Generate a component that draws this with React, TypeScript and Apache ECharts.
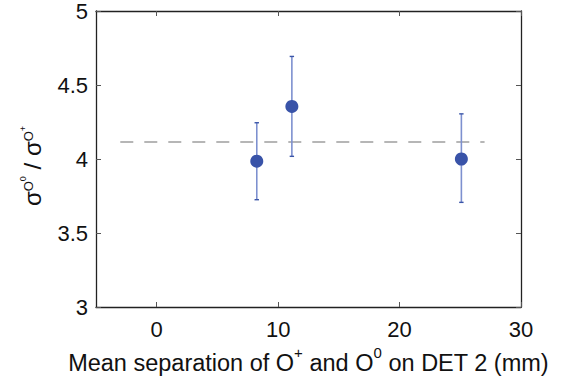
import React, { useEffect, useRef } from "react";
import * as echarts from "echarts";

const xValues = [8.24, 11.13, 25.09];
const yValues = [3.985, 4.355, 4.0];
const yLow = [3.725, 4.018, 3.707];
const yHigh = [4.245, 4.693, 4.305];
const refLineX = [-3, 27];
const refLineY = 4.115;
const xTicks = [0, 10, 20, 30];

const FONT = "'Liberation Sans', Arial, Helvetica, sans-serif";

export default function App() {
  const ref = useRef<HTMLDivElement>(null);
  useEffect(() => {
    if (!ref.current) return;
    const chart = echarts.init(ref.current, null, { renderer: "svg" });
    const points = xValues.map((x, i) => [x, yValues[i]]);
    const bars = xValues.map((x, i) => [x, yLow[i], yHigh[i]]);
    const axisColor = "#222";
    const option: any = {
      animation: false,
      textStyle: { fontFamily: FONT },
      grid: { left: 96, top: 8, right: 46, bottom: 76, containLabel: false },
      xAxis: [
        {
          type: "value",
          min: -5,
          max: 30,
          position: "bottom",
          splitLine: { show: false },
          axisLine: { show: true, onZero: false, lineStyle: { color: axisColor, width: 1.3 } },
          axisTick: { show: true, inside: true, length: 5, customValues: xTicks, lineStyle: { color: "#555" } },
          axisLabel: { customValues: xTicks, color: "#111", fontSize: 22, fontFamily: FONT, margin: 11 },
          name: "{n|Mean separation of O}{sup|+}{n| and O}{sup|0}{n| on DET 2 (mm)}",
          nameLocation: "middle",
          nameGap: 31,
          nameTextStyle: {
            rich: {
              n: { fontSize: 23.5, fontFamily: FONT, color: "#111", verticalAlign: "bottom", lineHeight: 30 },
              sup: { fontSize: 15, fontFamily: FONT, color: "#111", verticalAlign: "top", lineHeight: 30 },
            },
          },
        },
        {
          type: "value",
          min: -5,
          max: 30,
          position: "top",
          splitLine: { show: false },
          axisLine: { show: true, onZero: false, lineStyle: { color: axisColor, width: 1.3 } },
          axisTick: { show: true, inside: true, length: 5, customValues: xTicks, lineStyle: { color: "#555" } },
          axisLabel: { show: false },
        },
      ],
      yAxis: [
        {
          type: "value",
          min: 3,
          max: 5,
          interval: 0.5,
          position: "left",
          splitLine: { show: false },
          axisLine: { show: true, onZero: false, lineStyle: { color: axisColor, width: 1.3 } },
          axisTick: { show: true, inside: true, length: 5, lineStyle: { color: "#555" } },
          axisLabel: { color: "#111", fontSize: 22, fontFamily: FONT, margin: 8 },
          name: "{s|σ}{sub|O}{sup|0}{s| / σ}{sub|O}{sup|+}",
          nameLocation: "middle",
          nameRotate: 90,
          nameGap: 50,
          nameTextStyle: {
            padding: [0, 14, 0, 0],
            rich: {
              s: { fontSize: 24, fontFamily: FONT, color: "#111", verticalAlign: "middle", lineHeight: 28 },
              sub: { fontSize: 13, fontFamily: FONT, color: "#111", verticalAlign: "middle", lineHeight: 14, padding: [0, 0, 8, 0] },
              sup: { fontSize: 9, fontFamily: FONT, color: "#111", verticalAlign: "middle", lineHeight: 10, padding: [0, 0, 18, 0] },
            },
          },
        },
        {
          type: "value",
          min: 3,
          max: 5,
          interval: 0.5,
          position: "right",
          splitLine: { show: false },
          axisLine: { show: true, onZero: false, lineStyle: { color: axisColor, width: 1.3 } },
          axisTick: { show: true, inside: true, length: 5, lineStyle: { color: "#555" } },
          axisLabel: { show: false },
        },
      ],
      series: [
        {
          type: "line",
          data: refLineX.map((x) => [x, refLineY]),
          symbol: "none",
          lineStyle: { color: "#6e6e6e", width: 1.2, type: [13, 11] },
          z: 1,
        },
        {
          type: "custom",
          data: bars,
          z: 2,
          renderItem: (params: any, api: any) => {
            const x = api.value(0);
            const lo = api.coord([x, api.value(1)]);
            const hi = api.coord([x, api.value(2)]);
            const w = 2.2;
            return {
              type: "group",
              children: [
                {
                  type: "line",
                  shape: { x1: lo[0], y1: lo[1], x2: hi[0], y2: hi[1] },
                  style: { stroke: "#7d90cf", lineWidth: 1.6 },
                },
                {
                  type: "line",
                  shape: { x1: lo[0] - w, y1: lo[1], x2: lo[0] + w, y2: lo[1] },
                  style: { stroke: "#3a55a8", lineWidth: 1.4 },
                },
                {
                  type: "line",
                  shape: { x1: hi[0] - w, y1: hi[1], x2: hi[0] + w, y2: hi[1] },
                  style: { stroke: "#3a55a8", lineWidth: 1.4 },
                },
              ],
            };
          },
        },
        {
          type: "scatter",
          data: points,
          symbol: "circle",
          symbolSize: 13,
          itemStyle: { color: "#3953a8", opacity: 1 },
          z: 3,
        },
      ],
    };
    chart.setOption(option);
    return () => chart.dispose();
  }, []);
  return (
    <div
      ref={ref}
      style={{ position: "absolute", left: 0, top: 0, width: 567, height: 383 }}
    />
  );
}
